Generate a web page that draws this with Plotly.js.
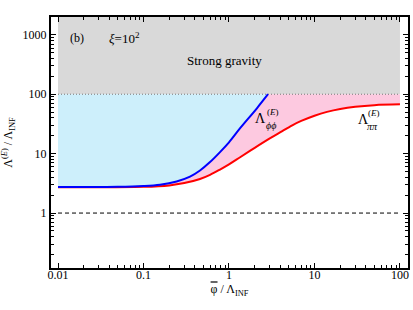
<!DOCTYPE html>
<html>
<head>
<meta charset="utf-8">
<script src="https://cdn.plot.ly/plotly-3.0.1.min.js"></script>
<style>html,body{margin:0;padding:0;background:#fff;}#chart{width:413px;height:310px;}</style>
</head>
<body>
<div id="chart"></div>
<script>
// phi-phi cutoff (blue)
const phiX = [0.01, 0.05, 0.1, 0.156, 0.244, 0.35, 0.458, 0.6, 0.785, 1.0, 1.35, 2.12, 2.86];
const phiY = [2.74, 2.76, 2.85, 3.0, 3.4, 4.1, 5.2, 7.2, 10.6, 15.5, 26.8, 58, 100];
// pi-pi cutoff (red)
const piX = [0.01, 0.1, 0.2, 0.3, 0.458, 0.6, 0.785, 1.0, 1.35, 2.0, 3.0, 4.0, 5.5, 7.0, 10, 14, 20, 30, 50, 100];
const piY = [2.72, 2.76, 2.92, 3.2, 3.75, 4.4, 5.4, 6.6, 8.7, 12.5, 18, 23, 30, 35.5, 43.5, 50.5, 56.5, 61.5, 65.5, 67.5];
// reference levels
const strongGravity = 100;
const unitLevel = 1;
const xMin = 0.01, xMax = 100;
const yTop = 2000;
const xTicks = [0.01, 0.1, 1, 10, 100];
const xTickText = ["0.01", "0.1", "1", "10", "100"];
const yTicks = [1, 10, 100, 1000];
const yTickText = ["1", "10", "100", "1000"];

function minorTicks(lo, hi) {
  const out = [];
  for (let d = lo; d <= hi; d++) for (let k = 2; k <= 9; k++) out.push(k * Math.pow(10, d));
  return out;
}

const serif = "Liberation Serif, Times New Roman, serif";

// Strong gravity region
const gray = {x: [xMin, xMax, xMax, xMin], y: [strongGravity, strongGravity, yTop, yTop],
  fill: 'toself', fillcolor: '#d9d9d9', mode: 'lines', line: {width: 0}, hoverinfo: 'skip'};
// cyan: above blue, below 100
const cyan = {x: phiX.concat([xMin]), y: phiY.concat([strongGravity]),
  fill: 'toself', fillcolor: '#cdeffb', mode: 'lines', line: {width: 0}, hoverinfo: 'skip'};
// pink: between red and min(blue,100)
const pinkX = piX.concat([xMax, phiX[phiX.length - 1]]).concat(phiX.slice().reverse());
const pinkY = piY.concat([strongGravity, strongGravity]).concat(phiY.slice().reverse());
const pink = {x: pinkX, y: pinkY, fill: 'toself', fillcolor: '#fdc9e0', mode: 'lines', line: {width: 0}, hoverinfo: 'skip'};

const dotted = {x: [xMin, xMax], y: [strongGravity, strongGravity], mode: 'lines',
  line: {color: '#777', width: 1, dash: '1px,2px'}};
const dashed = {x: [xMin, xMax], y: [unitLevel, unitLevel], mode: 'lines',
  line: {color: '#000', width: 1, dash: '4px,3px'}};
const red = {x: piX, y: piY, mode: 'lines', line: {color: '#ff0000', width: 2, shape: 'spline'}};
const blue = {x: phiX, y: phiY, mode: 'lines', line: {color: '#0000ff', width: 2, shape: 'spline'}};

const axisCommon = {
  type: 'log', showline: true, linecolor: '#000', linewidth: 2, mirror: 'allticks',
  ticks: 'inside', ticklen: 5, tickwidth: 1, tickcolor: '#000', showgrid: false, zeroline: false,
  tickfont: {family: serif, size: 12, color: '#000'}
};

const txt = (x, y, text, size, extra) => Object.assign({xref: 'paper', yref: 'paper', x: x, y: y, text: text,
  showarrow: false, xanchor: 'center', yanchor: 'middle', borderpad: 0,
  font: {family: serif, size: size, color: '#000'}}, extra || {});

const layout = {
  width: 413, height: 310,
  margin: {l: 51, r: 5, t: 17, b: 42},
  paper_bgcolor: '#fff', plot_bgcolor: '#fff',
  showlegend: false,
  xaxis: Object.assign({}, axisCommon, {
    range: [-2.082, 2.094], tickmode: 'array', tickvals: xTicks, ticktext: xTickText,
    ticklabelstandoff: -5,
    minor: {tickmode: 'array', tickvals: minorTicks(-2, 1), ticks: 'inside', ticklen: 3, tickcolor: '#000', showgrid: false},
    title: {text: '<span style="text-decoration:overline">φ</span> / Λ<sub>INF</sub>', font: {family: serif, size: 12, color: '#000'}, standoff: 1}
  }),
  yaxis: Object.assign({}, axisCommon, {
    range: [-0.925, 3.30], tickmode: 'array', tickvals: yTicks, ticktext: yTickText,
    minor: {tickmode: 'array', tickvals: minorTicks(-1, 3), ticks: 'inside', ticklen: 3, tickcolor: '#000', showgrid: false},
    title: {text: 'Λ<sup>(<i>E</i>)</sup> / Λ<sub>INF</sub>', font: {family: serif, size: 12, color: '#000'}, standoff: 8}
  }),
  annotations: [
    txt(0.073, 0.916, '(b)', 12),
    txt(0.207, 0.916, '<i>ξ</i>=10<sup>2</sup>', 13),
    txt(0.487, 0.825, 'Strong gravity', 13),
    txt(0.588, 0.594, 'Λ', 14),
    txt(0.617, 0.568, '<i>ϕϕ</i>', 10),
    txt(0.621, 0.620, '(<i>E</i>)', 9),
    txt(0.875, 0.590, 'Λ', 14),
    txt(0.901, 0.564, '<i>ππ</i>', 10),
    txt(0.906, 0.616, '(<i>E</i>)', 9)
  ]
};

Plotly.newPlot('chart', [gray, cyan, pink, dotted, dashed, red, blue], layout, {displayModeBar: false, staticPlot: true});
</script>
</body>
</html>
